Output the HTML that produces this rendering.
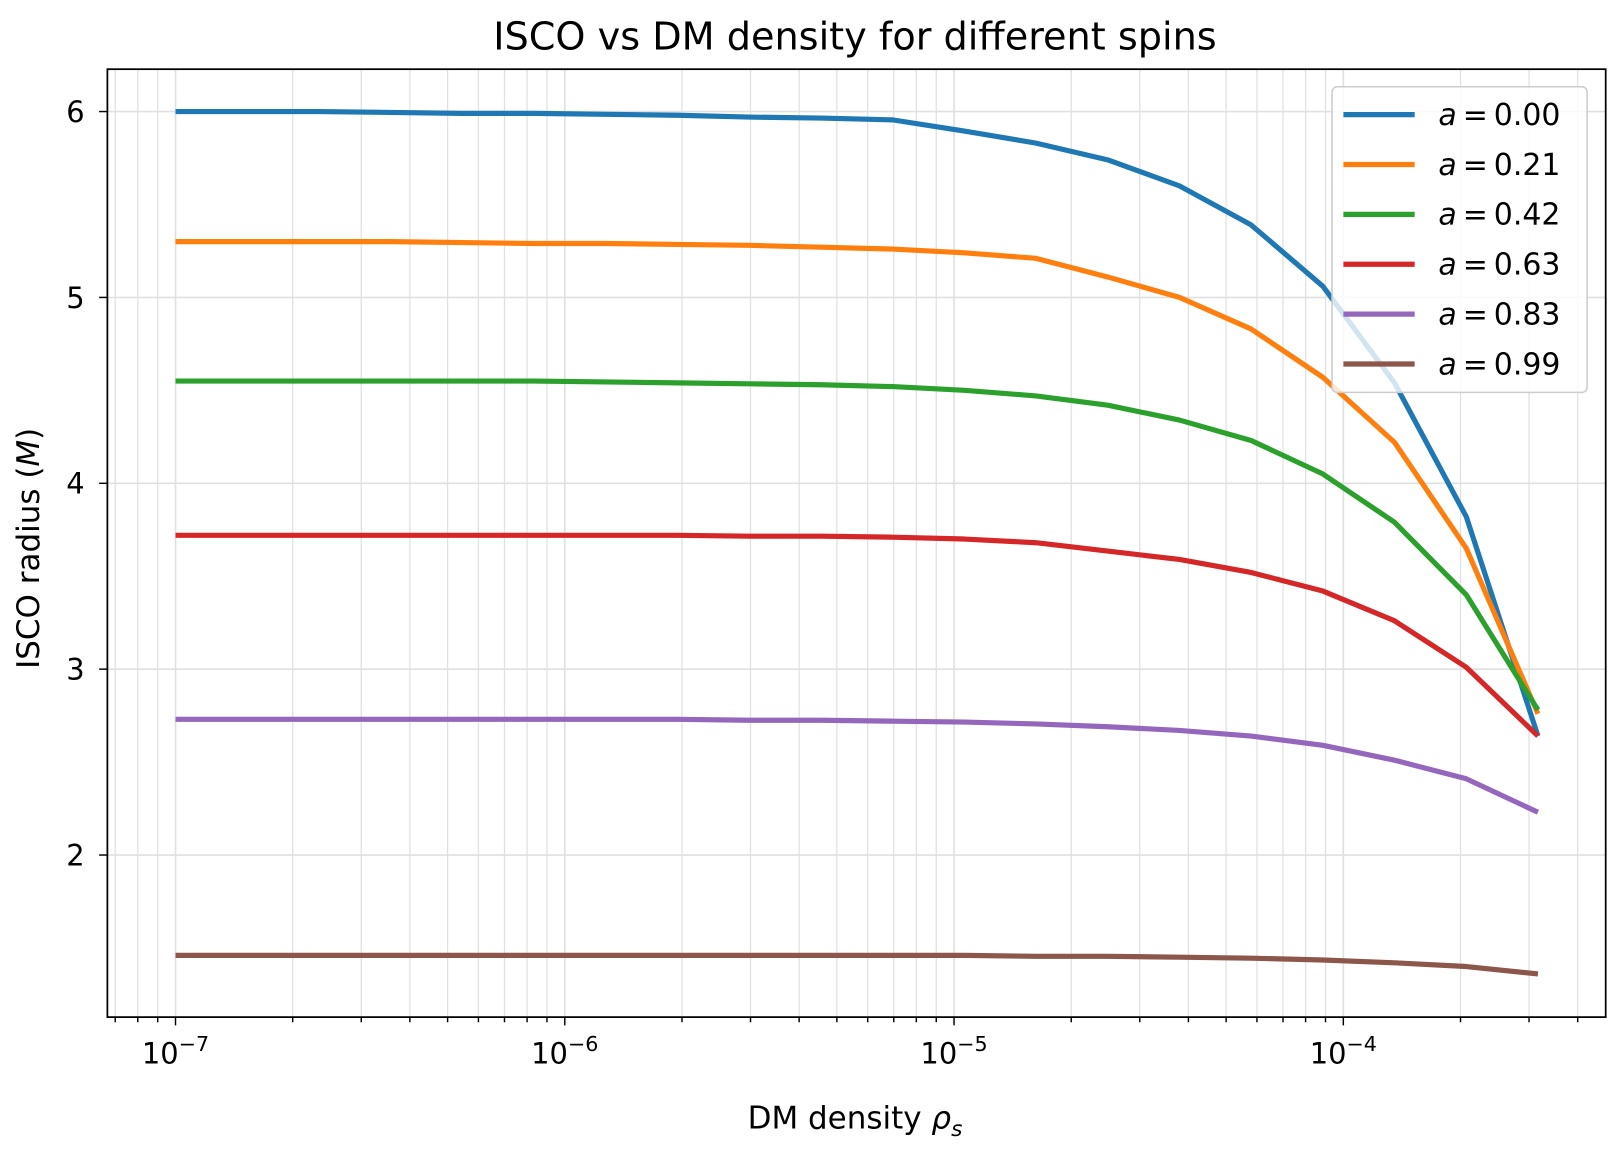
<!DOCTYPE html>
<html><head><meta charset="utf-8"><style>
body{margin:0;background:#fff;}
svg text{font-family:"DejaVu Sans","Liberation Sans",sans-serif;fill:#000;}
</style></head><body>
<svg id="chart" width="1619" height="1150" viewBox="0 0 1619 1150" xmlns="http://www.w3.org/2000/svg">
<g transform="scale(1.0326)">
<text x="828" y="48" font-size="37" text-anchor="middle">ISCO vs DM density for different spins</text>
<g id="grid"></g><g id="series"></g><g id="axes"></g><g id="legend"></g>
</g>
</svg>
<script>
const logXStart = -7, logXEnd = -3.5, nPts = 20;
const spins = ["0.00","0.21","0.42","0.63","0.83","0.99"];
const colors = ["#1f77b4","#ff7f0e","#2ca02c","#d62728","#9467bd","#8c564b"];
const s0 = [6.00,6.00,6.00,5.995,5.99,5.99,5.985,5.98,5.97,5.965,5.955,5.895,5.83,5.74,5.60,5.39,5.06,4.54,3.82,2.64];
const s1 = [5.30,5.30,5.30,5.30,5.295,5.29,5.29,5.285,5.28,5.27,5.26,5.24,5.21,5.11,5.00,4.83,4.57,4.22,3.65,2.76];
const s2 = [4.55,4.55,4.55,4.55,4.55,4.55,4.545,4.54,4.535,4.53,4.52,4.50,4.47,4.42,4.34,4.23,4.05,3.79,3.40,2.78];
const s3 = [3.72,3.72,3.72,3.72,3.72,3.72,3.72,3.72,3.715,3.715,3.71,3.70,3.68,3.635,3.59,3.52,3.42,3.26,3.01,2.64];
const s4 = [2.73,2.73,2.73,2.73,2.73,2.73,2.73,2.73,2.725,2.725,2.72,2.715,2.705,2.69,2.67,2.64,2.59,2.51,2.41,2.23];
const s5 = [1.46,1.46,1.46,1.46,1.46,1.46,1.46,1.46,1.46,1.46,1.46,1.46,1.455,1.455,1.45,1.445,1.435,1.42,1.40,1.36];
const series = [s0,s1,s2,s3,s4,s5];
const yTicks = [2,3,4,5,6];
const xDecades = [-7,-6,-5,-4];

const L=104,R=1555,T=67,B=985;
const lxMin=-7.175,lxMax=-3.326,yMin=1.128,yMax=6.228;
const X=l=>L+(l-lxMin)/(lxMax-lxMin)*(R-L);
const Y=v=>B-(v-yMin)/(yMax-yMin)*(B-T);
const NS="http://www.w3.org/2000/svg";
function mk(tag,attrs,parent){const e=document.createElementNS(NS,tag);for(const k in attrs)e.setAttribute(k,attrs[k]);parent.appendChild(e);return e;}
const grid=document.getElementById('grid'),axes=document.getElementById('axes'),ser=document.getElementById('series'),leg=document.getElementById('legend');

for(let d=-8;d<=-3;d++){for(let m=1;m<=9;m++){const l=d+Math.log10(m);if(l<lxMin||l>lxMax)continue;const x=X(l);
 const g=mk('line',{x1:x,x2:x,y1:T,y2:B,stroke:'#e0e0e0','stroke-width':m==1?1.6:1.2},grid);
 
 const t=mk('line',{x1:x,x2:x,y1:B,y2:B+(m==1?8:5),stroke:'#000','stroke-width':1.4},axes);
 }}
xDecades.forEach(d=>{const t=mk('text',{x:X(d),y:B+45,'font-size':28,'text-anchor':'middle'},axes);
 
 t.innerHTML='10<tspan dy="-12" font-size="20">\u2212'+(-d)+'</tspan>';});
yTicks.forEach(v=>{const y=Y(v);
 const g=mk('line',{x1:L,x2:R,y1:y,y2:y,stroke:'#e0e0e0','stroke-width':1.6},grid);
 
 const t=mk('line',{x1:L-8,x2:L,y1:y,y2:y,stroke:'#000','stroke-width':1.4},axes);
 
 const tx=mk('text',{x:L-22,y:y+10,'font-size':28,'text-anchor':'end'},axes);tx.textContent=v;
 });
const fr=mk('rect',{x:L,y:T,width:R-L,height:B-T,fill:'none',stroke:'#000','stroke-width':1.7},axes);

const xl=mk('text',{x:828,y:1093,'font-size':30,'text-anchor':'middle'},axes);

xl.innerHTML='DM density <tspan font-style="italic">ρ</tspan><tspan font-style="italic" font-size="21" dy="7">s</tspan>';
const yl=mk('text',{x:0,y:0,'font-size':30,'text-anchor':'middle',transform:'translate(38,531) rotate(-90)'},axes);

yl.innerHTML='ISCO radius (<tspan font-style="italic">M</tspan>)';

series.forEach((s,i)=>{const pts=s.map((v,j)=>X(logXStart+j*(logXEnd-logXStart)/(nPts-1)).toFixed(1)+','+Y(v).toFixed(1)).join(' ');
 const p=mk('polyline',{points:pts,fill:'none',stroke:colors[i],'stroke-width':5,'stroke-linejoin':'round'},ser);
 });

const lb=mk('rect',{x:1290,y:84,width:247,height:296,rx:5,fill:'#fff','fill-opacity':0.8,stroke:'#ccc','stroke-width':1.5},leg);

spins.forEach((sp,i)=>{const y=111+i*48.3;
 const g=mk('g',{},leg);
 mk('line',{x1:1301,x2:1370,y1:y,y2:y,stroke:colors[i],'stroke-width':5},g);
 const t=mk('text',{x:1393,y:y+10,'font-size':29},g);
 t.innerHTML='<tspan font-style="italic">a</tspan>\u2009=\u20090.'+sp.slice(2);});
</script>
</body></html>
